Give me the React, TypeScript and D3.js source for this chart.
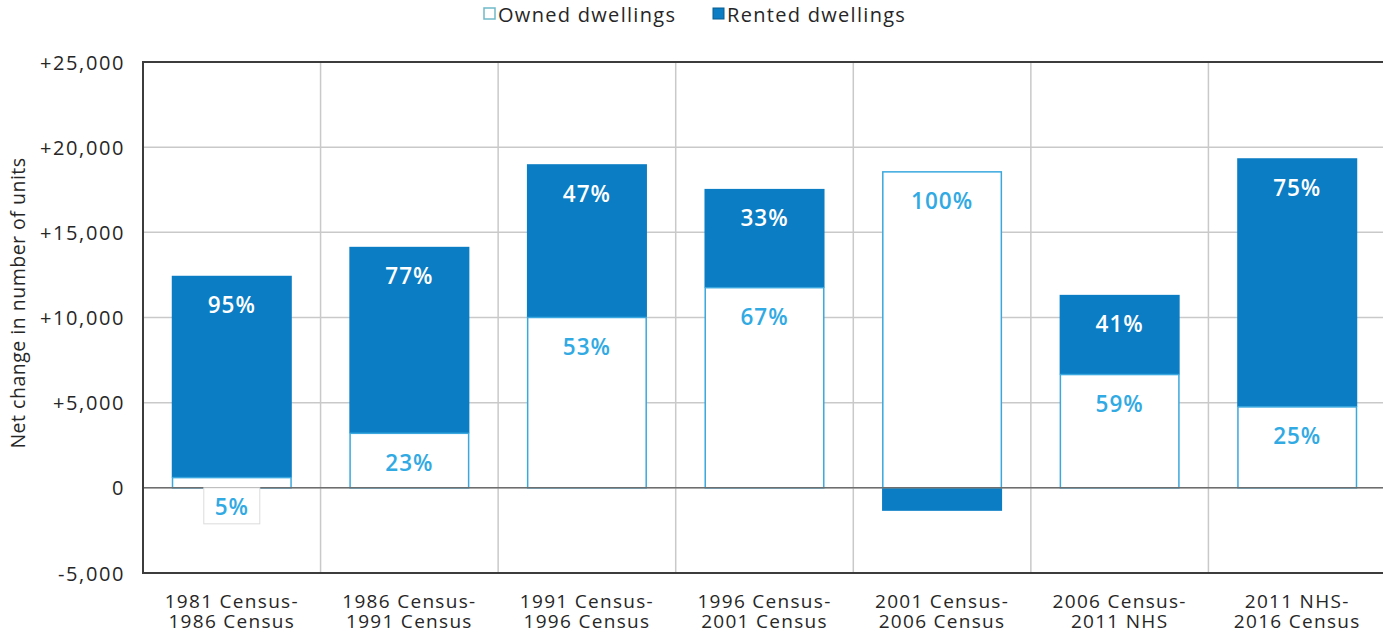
import React from "react";
import * as d3 from "d3";

const categories = [
  ["1981 Census-", "1986 Census"],
  ["1986 Census-", "1991 Census"],
  ["1991 Census-", "1996 Census"],
  ["1996 Census-", "2001 Census"],
  ["2001 Census-", "2006 Census"],
  ["2006 Census-", "2011 NHS"],
  ["2011 NHS-", "2016 Census"],
];
const owned = [600, 3200, 10000, 11750, 18550, 6650, 4750];
const rented = [11850, 10950, 9000, 5800, -1350, 4680, 14600];
const ownedPct = ["5%", "23%", "53%", "67%", "100%", "59%", "25%"];
const rentedPct = ["95%", "77%", "47%", "33%", "", "41%", "75%"];
const yTicks = [-5000, 0, 5000, 10000, 15000, 20000, 25000];
const tickLabel = (v: number) =>
  v > 0 ? "+" + d3.format(",")(v) : v < 0 ? "-" + d3.format(",")(-v) : "0";

const W = 1383;
const H = 633;
const FONT = "'Open Sans', sans-serif";
const RENTED = "#0a7dc4";
const OWNED_STROKE = "#3aa8de";
const OWNED_TEXT = "#31aae3";
const TXT = "#262626";

export default function App() {
  const left = 143;
  const right = 1386;
  const top = 62;
  const bottom = 573;
  const x = d3
    .scaleBand<number>()
    .domain(categories.map((_, i) => i))
    .range([left, right])
    .paddingInner(0.324)
    .paddingOuter(0.162);
  const xb = d3
    .scaleBand<number>()
    .domain(categories.map((_, i) => i))
    .range([left, right]);
  const y = d3.scaleLinear().domain([-5000, 25000]).range([bottom, top]);

  return (
    <div style={{ position: "absolute", left: 0, top: 0 }}>
      <svg width={W} height={H} style={{ display: "block", background: "#fff" }} fontFamily={FONT}>
        {/* grid */}
        {yTicks.map((t) => (
          <line key={"g" + t} x1={left} x2={right} y1={y(t)} y2={y(t)} stroke="#c9c9c9" strokeWidth={1.5} />
        ))}
        {categories.map((_, i) =>
          i > 0 ? (
            <line key={"v" + i} x1={xb(i)!} x2={xb(i)!} y1={top} y2={bottom} stroke="#c9c9c9" strokeWidth={1.5} />
          ) : null
        )}
        {/* bars */}
        {categories.map((_, i) => {
          const bx = x(i)!;
          const bw = x.bandwidth();
          const o = owned[i];
          const r = rented[i];
          const oy0 = y(Math.max(0, o));
          const oy1 = y(Math.min(0, o));
          let ry0: number, ry1: number;
          if (r >= 0) {
            ry0 = y(o + r);
            ry1 = y(o);
          } else {
            ry0 = y(0);
            ry1 = y(r);
          }
          return (
            <g key={"b" + i}>
              <rect x={bx} y={ry0} width={bw} height={ry1 - ry0} fill={RENTED} />
              <rect x={bx + 0.75} y={oy0} width={bw - 1.5} height={oy1 - oy0} fill="#fff" stroke={OWNED_STROKE} strokeWidth={1.5} />
            </g>
          );
        })}
        {/* zero line */}
        <line x1={left} x2={right} y1={y(0)} y2={y(0)} stroke="#6e6e6e" strokeWidth={1.5} />
        {/* labels */}
        {categories.map((_, i) => {
          const cx = x(i)! + x.bandwidth() / 2;
          const o = owned[i];
          const r = rented[i];
          const items: React.ReactNode[] = [];
          if (rentedPct[i]) {
            const ty = y(o + r) + 29;
            items.push(
              <text key="r" x={cx} y={ty} textAnchor="middle" dominantBaseline="central" fill="#fff" fontSize={22.5} fontWeight={600} letterSpacing={1}>
                {rentedPct[i]}
              </text>
            );
          }
          if (o < 3000) {
            const by = y(0);
            items.push(
              <g key="ob">
                <rect x={cx - 28} y={by} width={56} height={36} fill="#fff" stroke="#dcdcdc" strokeWidth={1} />
                <text x={cx} y={by + 19} textAnchor="middle" dominantBaseline="central" fill={OWNED_TEXT} fontSize={22.5} fontWeight={600} letterSpacing={1}>
                  {ownedPct[i]}
                </text>
              </g>
            );
          } else {
            items.push(
              <text key="o" x={cx} y={y(o) + 29} textAnchor="middle" dominantBaseline="central" fill={OWNED_TEXT} fontSize={22.5} fontWeight={600} letterSpacing={1}>
                {ownedPct[i]}
              </text>
            );
          }
          return <g key={"l" + i}>{items}</g>;
        })}
        {/* frame */}
        <line x1={left} x2={right} y1={top} y2={top} stroke="#3c3c3c" strokeWidth={2} />
        <line x1={left} x2={right} y1={bottom} y2={bottom} stroke="#3c3c3c" strokeWidth={2} />
        <line x1={left} x2={left} y1={top - 1} y2={bottom + 1} stroke="#3c3c3c" strokeWidth={2} />
        {/* y ticks */}
        {yTicks.map((t) => (
          <text key={"t" + t} x={125} y={y(t)} textAnchor="end" dominantBaseline="central" fontSize={20} letterSpacing={1.6} fill={TXT}>
            {tickLabel(t)}
          </text>
        ))}
        <text transform={`translate(17,303) rotate(-90)`} textAnchor="middle" dominantBaseline="central" fontSize={19.5} letterSpacing={0.5} fill={TXT}>
          Net change in number of units
        </text>
        {/* x labels */}
        {categories.map((c, i) => (
          <text key={"x" + i} x={xb(i)! + xb.bandwidth() / 2} textAnchor="middle" fontSize={19} letterSpacing={1.3} fill={TXT}>
            <tspan x={xb(i)! + xb.bandwidth() / 2} y={608}>{c[0]}</tspan>
            <tspan x={xb(i)! + xb.bandwidth() / 2} y={628}>{c[1]}</tspan>
          </text>
        ))}
        {/* legend */}
        <g>
          <rect x={484} y={8} width={11} height={11} fill="#fff" stroke="#6fb9c8" strokeWidth={1.5} />
          <text x={498} y={14} dominantBaseline="central" fontSize={20} letterSpacing={1.3} fill={TXT}>Owned dwellings</text>
          <rect x={713} y={8} width={11} height={11} fill={RENTED} stroke="#0a5f8f" strokeWidth={1} />
          <text x={727} y={14} dominantBaseline="central" fontSize={20} letterSpacing={1.3} fill={TXT}>Rented dwellings</text>
        </g>
      </svg>
    </div>
  );
}
